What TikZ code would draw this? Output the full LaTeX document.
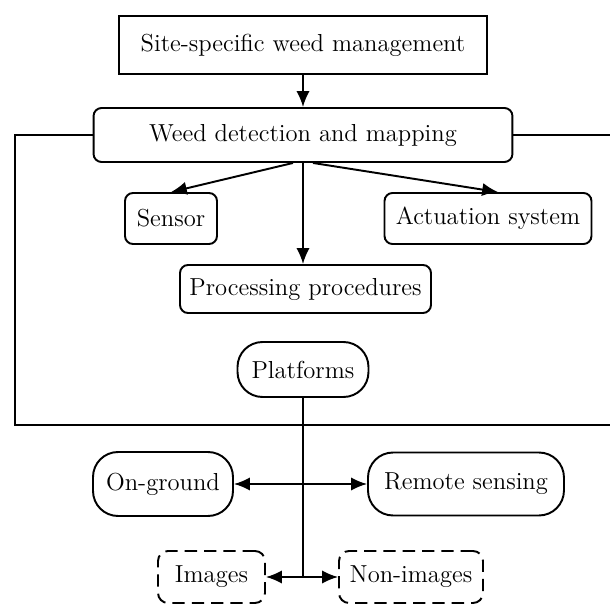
\documentclass[tikz,border=0pt]{standalone}
\usepackage{tikz}
\usetikzlibrary{arrows.meta}

\begin{document}
\begin{tikzpicture}[
  x=0.02cm, y=-0.02cm,
  every node/.style={font=\fontsize{14}{16}\selectfont},
  box/.style={draw, line width=1.1pt, inner sep=2pt},
  rbox/.style={box, rounded corners=0.16cm},
  pill/.style={box, rounded corners=0.5cm},
  dbox/.style={box, dashed, dash pattern=on 7pt off 4pt, rounded corners=0.2cm},
  link/.style={line width=1.1pt},
  arr/.style={link, -{Latex[length=9pt, width=7.5pt]}},
]
  \useasboundingbox (0,0) rectangle (610,605);

  % Top level
  \node[box, minimum width=7.36cm, minimum height=1.16cm] (ssw) at (303,45) {Site-specific weed management};
  \node[rbox, minimum width=8.38cm, minimum height=1.08cm] (wdm) at (303,135) {Weed detection and mapping};
  \draw[arr] (ssw) -- (wdm);

  % Components
  \node[rbox, minimum width=1.84cm, minimum height=1.02cm] (sensor) at (171,218.5) {Sensor};
  \node[rbox, minimum width=4.14cm, minimum height=1.02cm] (act) at (488,218.5) {Actuation system};
  \node[rbox, minimum width=5.02cm, minimum height=0.96cm] (proc) at (305.5,289) {Processing procedures};
  \draw[arr] ([xshift=-0.2cm]wdm.south) -- (sensor.north);
  \draw[arr] ([xshift=0.2cm]wdm.south) -- ([xshift=0.2cm]act.north);
  \draw[arr] (wdm.south) -- (wdm.south |- proc.north);

  % Platforms
  \node[pill, minimum width=2.62cm, minimum height=1.1cm] (plat) at (303,369.5) {Platforms};

  % Enclosing frame
  \coordinate (fl) at (15,425);
  \coordinate (fr) at (610,425);
  \coordinate (er) at (610,135);
  \draw[link] (wdm.west) -| (fl) -- (fr);
  \draw[link] (wdm.east) -- (er);

  % Platform types
  \node[pill, minimum width=2.8cm, minimum height=1.28cm] (ground) at (163,484) {On-ground};
  \node[pill, minimum width=3.92cm, minimum height=1.26cm] (remote) at (466,484) {Remote sensing};
  \node[dbox, minimum width=2.14cm, minimum height=1.04cm] (img) at (211.5,577) {Images};
  \node[dbox, minimum width=2.88cm, minimum height=1.04cm] (nimg) at (411,577) {Non-images};

  \coordinate (s1) at (plat.south |- ground.east);
  \coordinate (s2) at (plat.south |- img.east);
  \draw[link] (plat.south) -- (s2);
  \draw[arr] (s1) -- (ground.east);
  \draw[arr] (s1) -- (remote.west);
  \draw[arr] (s2) -- (img.east);
  \draw[arr] (s2) -- (nimg.west);
\end{tikzpicture}
\end{document}
